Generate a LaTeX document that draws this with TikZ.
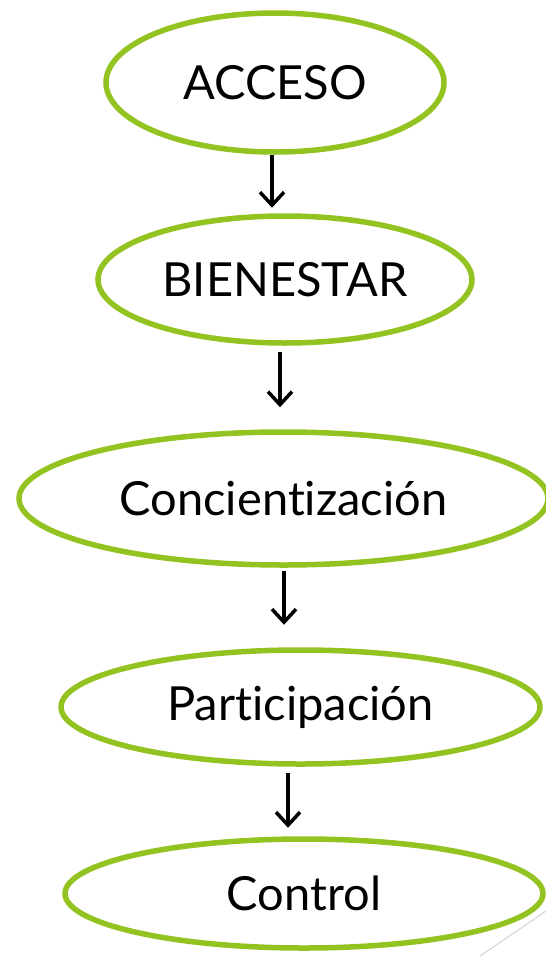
\documentclass[tikz,border=0pt]{standalone}
\usepackage{fontspec}
\setmainfont[Ligatures=NoCommon]{Lato}
\usepackage{xcolor}
\usetikzlibrary{shapes.geometric,arrows.meta}
\definecolor{leafgreen}{RGB}{146,195,32}

\begin{document}
\begin{tikzpicture}[x=1pt, y=-1pt,
  stage/.style={ellipse, draw=leafgreen, line width=5.5pt, inner sep=0pt,
    font=\fontsize{47}{56}\selectfont},
  flow/.style={line width=3.5pt, -{Straight Barb[length=13pt, width=24pt, line width=3.5pt]}}]
\useasboundingbox (0,0) rectangle (546,956);
\node[stage, minimum width=338pt, minimum height=139pt] (acceso) at (275,82.5) {ACCESO};
\node[stage, minimum width=374pt, minimum height=127pt] (bienestar) at (285,279.5) {BIENESTAR};
\node[stage, minimum width=529pt, minimum height=133pt] (concien) at (283.5,498.5) {Concientización};
\node[stage, minimum width=479pt, minimum height=114pt] (particip) at (300.5,707) {Participación};
\node[stage, minimum width=478pt, minimum height=109pt] (control) at (304,893.5) {Control};
\draw[flow, shorten >=5.5pt] ([xshift=-3pt]acceso.south) -- ([xshift=-3pt]acceso.south |- bienestar.north);
\draw[flow, shorten <=6pt, shorten >=22pt] ([xshift=-5pt]bienestar.south) -- ([xshift=-5pt]bienestar.south |- concien.north);
\draw[flow, shorten <=3.5pt, shorten >=22.5pt] ([xshift=0.5pt]concien.south) -- ([xshift=0.5pt]concien.south |- particip.north);
\draw[flow, shorten <=6.5pt, shorten >=8.5pt] ([xshift=-12.5pt]particip.south) -- ([xshift=-12.5pt]particip.south |- control.north);
\draw[gray!35, line width=1pt] (480,956) -- (546,911);
\end{tikzpicture}
\end{document}
